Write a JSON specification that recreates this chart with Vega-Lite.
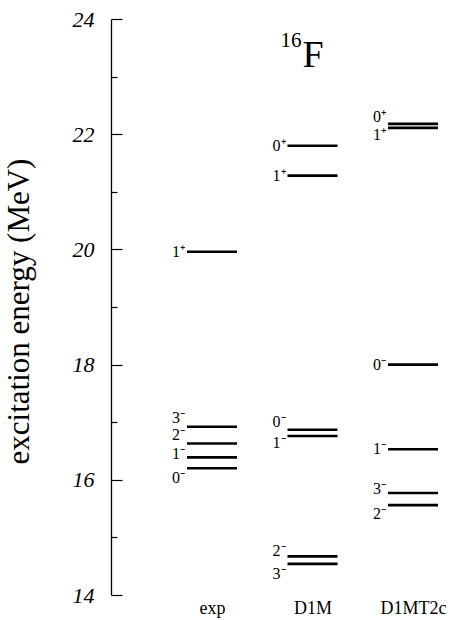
{
  "$schema": "https://vega.github.io/schema/vega-lite/v6.json",
  "autosize": "none",
  "width": 353,
  "height": 576,
  "padding": {"left": 111, "top": 19, "right": 0, "bottom": 25},
  "background": "white",
  "config": {"view": {"stroke": null}},
  "datasets": {
    "levels": [
      {"model": "exp", "E": 19.96, "LE": 19.96, "lab": "1⁺"},
      {"model": "exp", "E": 16.92, "LE": 17.07, "lab": "3⁻"},
      {"model": "exp", "E": 16.63, "LE": 16.77, "lab": "2⁻"},
      {"model": "exp", "E": 16.39, "LE": 16.45, "lab": "1⁻"},
      {"model": "exp", "E": 16.20, "LE": 16.03, "lab": "0⁻"},
      {"model": "D1M", "E": 21.80, "LE": 21.80, "lab": "0⁺"},
      {"model": "D1M", "E": 21.28, "LE": 21.28, "lab": "1⁺"},
      {"model": "D1M", "E": 16.87, "LE": 17.0, "lab": "0⁻"},
      {"model": "D1M", "E": 16.76, "LE": 16.64, "lab": "1⁻"},
      {"model": "D1M", "E": 14.67, "LE": 14.77, "lab": "2⁻"},
      {"model": "D1M", "E": 14.54, "LE": 14.36, "lab": "3⁻"},
      {"model": "D1MT2c", "E": 22.18, "LE": 22.30, "lab": "0⁺"},
      {"model": "D1MT2c", "E": 22.11, "LE": 21.98, "lab": "1⁺"},
      {"model": "D1MT2c", "E": 18.00, "LE": 18.00, "lab": "0⁻"},
      {"model": "D1MT2c", "E": 16.53, "LE": 16.53, "lab": "1⁻"},
      {"model": "D1MT2c", "E": 15.77, "LE": 15.84, "lab": "3⁻"},
      {"model": "D1MT2c", "E": 15.56, "LE": 15.41, "lab": "2⁻"}
    ],
    "nucleus": [
      {"model": "D1M", "E": 23.3, "mass": "16", "symbol": "F"}
    ]
  },
  "encoding": {
    "x": {
      "field": "model",
      "type": "nominal",
      "sort": ["exp", "D1M", "D1MT2c"],
      "scale": {"type": "point", "domain": ["exp", "D1M", "D1MT2c"], "range": [101, 302], "padding": 0},
      "axis": {
        "title": null,
        "domain": false,
        "ticks": false,
        "labelAngle": 0,
        "labelFont": "Liberation Serif",
        "labelFontSize": 18,
        "labelColor": "black",
        "labelPadding": 4,
        "labelBaseline": "top"
      }
    },
    "y": {
      "field": "E",
      "type": "quantitative",
      "scale": {"domain": [14, 24], "nice": false, "zero": false},
      "axis": {
        "title": "excitation energy (MeV)",
        "titleFont": "Liberation Serif",
        "titleFontSize": 31,
        "titleFontWeight": "normal",
        "titleColor": "black",
        "titleX": -92,
        "titleY": 292,
        "titleBaseline": "middle",
        "titleAlign": "center",
        "titleAngle": -90,
        "values": [14, 15, 16, 17, 18, 19, 20, 21, 22, 23, 24],
        "labelExpr": "datum.value % 2 === 0 ? datum.value : ''",
        "labelFont": "Liberation Serif",
        "labelFontStyle": "italic",
        "labelFontSize": 22,
        "labelColor": "black",
        "labelPadding": 28,
        "grid": false,
        "domainColor": "black",
        "domainWidth": 1.3,
        "tickColor": "black",
        "tickWidth": 1.2,
        "tickSize": {"condition": {"test": "datum.value % 2 === 0", "value": -11}, "value": -6}
      }
    }
  },
  "layer": [
    {
      "data": {"name": "levels"},
      "mark": {"type": "tick", "orient": "horizontal", "size": 50, "thickness": 2.6, "color": "black", "opacity": 1}
    },
    {
      "data": {"name": "levels"},
      "mark": {"type": "text", "align": "right", "baseline": "middle", "dx": -27, "font": "Liberation Serif", "fontSize": 16, "color": "black"},
      "encoding": {
        "y": {"field": "LE", "type": "quantitative"},
        "text": {"field": "lab"}
      }
    },
    {
      "data": {"name": "nucleus"},
      "mark": {"type": "text", "align": "right", "baseline": "alphabetic", "dx": -11, "dy": -12, "font": "Liberation Serif", "fontSize": 21, "color": "black"},
      "encoding": {"text": {"field": "mass"}}
    },
    {
      "data": {"name": "nucleus"},
      "mark": {"type": "text", "align": "left", "baseline": "alphabetic", "dx": -10, "dy": 8, "font": "Liberation Serif", "fontSize": 38, "color": "black"},
      "encoding": {"text": {"field": "symbol"}}
    }
  ]
}
